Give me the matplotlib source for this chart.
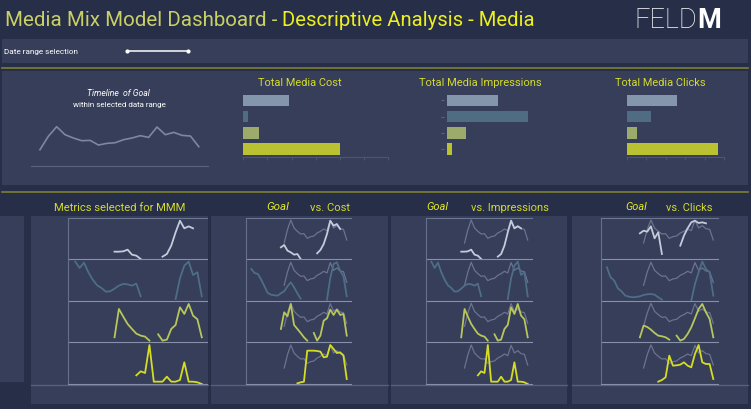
import matplotlib.pyplot as plt
from matplotlib.patches import Rectangle
import numpy as np

N = np.nan

# ---- values (arbitrary units) ----
channels = ['Channel A', 'Channel B', 'Channel C', 'Channel D']
total_cost = [1.91, 0.18, 0.65, 4.0]
total_impressions = [2.01, 3.21, 0.73, 0.19]
total_clicks = [2.59, 1.25, 0.52, 4.69]

weeks = list(range(30))
goal_weeks = list(range(10, 30))
goal = [48, 88, 117, 93, 83, 75, 76, 62, 67, 69, 78, 83, 90, 85, 116, 93, 100, 91, 89, 57]

cost_a = [N, N, N, N, N, N, N, N, N, 35, 42, 25, 20, 13, 15, 0, N, N, N, N, 17, 27, 45, 75, 115, 100, 105, 90, N, N]
cost_b = [97, 85, 82, 65, 45, 25, 20, 18, 17, 24, 30, 45, 57, 42, 24, 8, N, N, N, N, N, N, N, 5, 70, 112, 117, 92, 75, 15]
cost_c = [N, N, N, N, N, N, N, N, N, 40, 90, 78, 115, 52, 40, 28, 15, 5, N, 28, 5, 20, 65, 72, 98, 82, 98, 82, 85, 20]
cost_d = [N, N, N, N, N, N, N, N, N, N, N, N, N, N, 2, 5, 7, 100, 100, 100, 99, 97, 80, 82, 117, 105, 93, 95, 85, 15]

impr_a = [N, N, N, N, N, N, N, N, N, 22, 22, 23, 28, 13, 10, 0, N, N, N, N, 7, 15, 40, 80, 115, 92, 98, 92, N, N]
impr_b = [119, 100, 116, 87, 65, 48, 40, 29, 30, 38, 47, 52, 51, 47, 53, 15, N, N, N, N, N, N, N, 7, 69, 107, 119, 79, 87, 15]
impr_c = [N, N, N, N, N, N, N, N, N, 15, 100, 77, 55, 40, 26, 20, 17, 5, N, 24, 5, 8, 40, 52, 105, 85, 115, 80, 69, 15]
impr_d = [N, N, N, N, N, N, N, N, N, N, N, N, N, N, 26, 38, 33, 117, 7, 7, 7, 22, 7, 7, 12, 65, 7, 7, 5, 0]

clicks_a = [N, N, N, N, N, N, N, N, N, 77, 85, 82, 98, 62, 80, 15, N, N, N, N, 40, 70, 92, 110, 115, 108, 110, 107, N, N]
clicks_b = [102, 72, 62, 39, 30, 17, 14, 12, 13, 15, 19, 21, 22, 20, 12, 5, N, N, N, N, N, N, N, 2, 52, 87, 119, 97, 87, 17]
clicks_c = [N, N, N, N, N, N, N, N, N, 15, 50, 46, 38, 28, 20, 18, 15, 8, N, 20, 5, 10, 25, 45, 72, 100, 115, 90, 70, 15]
clicks_d = [N, N, N, N, N, N, N, N, N, N, N, N, N, N, 7, 12, 20, 85, 55, 56, 58, 65, 55, 50, 90, 117, 65, 60, 60, 15]

cost = [cost_a, cost_b, cost_c, cost_d]
impressions = [impr_a, impr_b, impr_c, impr_d]
clicks = [clicks_a, clicks_b, clicks_c, clicks_d]

# ---- style ----
W, H = 751, 410
BG = '#262E48'
PANEL = '#363E5A'
OLIVE = '#7E8030'
YELLOW = '#D3DB2C'
bar_colors = ['#8496AB', '#4F6C82', '#9CAB6B', '#BAC232']
line_colors = ['#C3CCDC', '#4D6E86', '#B9C65A', '#D5DD22']
GOAL = '#6B7390'
FONT = 'Roboto'

fig = plt.figure(figsize=(W / 100, H / 100), dpi=100, facecolor=BG)
renderer = fig.canvas.get_renderer()

bg = fig.add_axes([0, 0, 1, 1])
bg.set_xlim(0, W)
bg.set_ylim(H, 0)
bg.axis('off')


def box(x0, y0, x1, y1, color=PANEL):
    bg.add_patch(Rectangle((x0, y0), x1 - x0, y1 - y0, color=color, lw=0))


def label(x, y, s, width, ha='center', color=YELLOW, **kw):
    t = bg.text(x, y, s, ha=ha, va='center', color=color, fontsize=8,
                family=FONT, **kw)
    w = t.get_window_extent(renderer).width
    t.set_fontsize(8 * width / w)
    return t


def px_axes(left, top, right, bottom):
    ax = fig.add_axes([left / W, 1 - bottom / H, (right - left) / W, (bottom - top) / H])
    ax.set_facecolor('none')
    for s in ax.spines.values():
        s.set_visible(False)
    ax.set_xticks([])
    ax.set_yticks([])
    return ax


# header
label(5, 20, 'Media Mix Model Dashboard - ', 277, ha='left', color='#C9D066')
label(282.5, 20, 'Descriptive Analysis - Media', 253, ha='left', color='#ECF01E')
feld = label(634, 20, 'FELD', 63, ha='left', color='white', fontweight='light')
feld_end = bg.transData.inverted().transform(feld.get_window_extent(renderer))[1][0]
bg.text(feld_end + 0.5, 20, 'M', ha='left', va='center', color='white',
        family=FONT, fontweight='bold', fontsize=feld.get_fontsize())

# date range row
box(2, 40, 748, 64)
label(4, 52, 'Date range selection', 74, ha='left', color='white')
slider = px_axes(125, 49, 190, 55)
slider.plot([0, 1], [0, 0], color='white', lw=1.1, marker='o', ms=2)
slider.set_xlim(-0.03, 1.03)
bg.plot([2, 748], [68.5, 68.5], color=OLIVE, lw=1.2)

# top summary panel
box(2, 72, 748, 186)
label(118, 93, 'Timeline  of Goal', 63, color='white', style='italic')
label(119.7, 104.7, 'within selected data range', 94, color='white')

tl = px_axes(31, 116.7, 208, 166.7)
tl.plot(goal_weeks, goal, color='#80869E', lw=1.2)
tl.set_xlim(8.93, 30.1)
tl.set_ylim(0, 150)
tl.spines['bottom'].set_visible(True)
tl.spines['bottom'].set_color('#5A6480')

bar_specs = [
    ('Total Media Cost', 300, 84, total_cost, 243.3, 388, 6, True),
    ('Total Media Impressions', 480, 123, total_impressions, 444.3, 567.3, 4.8, False),
    ('Total Media Clicks', 660, 90, total_clicks, 627, 724, 5, True),
]
for title, cx, tw, vals, x0, x1, xmax, axis_line in bar_specs:
    label(cx, 82.7, title, tw)
    ax = px_axes(x0, 93.3, x1, 157.5)
    ax.barh(range(len(channels)), vals, height=0.71, color=bar_colors)
    ax.set_ylim(3.45, -0.5)
    ax.set_xlim(0, xmax)
    if axis_line:
        ax.spines['bottom'].set_visible(True)
        ax.spines['bottom'].set_color('#4B5572')
        ax.set_xticks(range(int(xmax) + 1))
        ax.tick_params(axis='x', length=2, color='#4B5572', labelbottom=False)
    else:
        ax.set_yticks(range(len(channels)))
        ax.tick_params(axis='y', length=2, pad=0, color='#5A6480', labelleft=False)
        ax.set_xlim(-0.12, xmax)

bg.plot([2, 748], [193.3, 193.3], color=OLIVE, lw=1.2)

# bottom section
box(0, 217, 24, 383)
panel_boxes = [(31, 208), (211, 388), (391, 567), (572, 748)]
for x0, x1 in panel_boxes:
    box(x0, 217, x1, 405)
    bg.plot([x0, x1], [385.5, 385.5], color='#56607A', lw=1)

label(119.5, 207.7, 'Metrics selected for MMM', 132)
label(278, 207, 'Goal', 22.7, style='italic', color='#E2EA2A')
label(330, 207.7, 'vs. Cost', 40)
label(437, 207, 'Goal', 22, style='italic', color='#E2EA2A')
label(510, 207.7, 'vs. Impressions', 78)
label(636.5, 207, 'Goal', 21.7, style='italic', color='#E2EA2A')
label(689.7, 207.7, 'vs. Clicks', 46)

row_edges = [219.3, 260, 302.3, 343.3, 385]
panels = [
    (68.3, 207, impressions, False),
    (246, 350.7, cost, True),
    (426, 531.7, impressions, True),
    (601, 717.7, clicks, True),
]
for left, right, series, show_goal in panels:
    for r in range(4):
        top, bottom = row_edges[r], row_edges[r + 1]
        ax = px_axes(left, top, right, bottom)
        if show_goal:
            ax.plot(goal_weeks, goal, color=GOAL, lw=0.9)
        ax.plot(weeks, series[r], color=line_colors[r], lw=1.3)
        ax.set_xlim(-1.6, 30.2)
        ax.set_ylim(0, (bottom - top) * 3)
        ax.spines['bottom'].set_visible(True)
        ax.spines['bottom'].set_color('#8690A8')
        ax.spines['left'].set_visible(True)
        ax.spines['left'].set_color('#66708A')
        if r == 0:
            ax.spines['top'].set_visible(True)
            ax.spines['top'].set_color('#6C7690')

fig.savefig('out.png', dpi=100, facecolor=BG)
